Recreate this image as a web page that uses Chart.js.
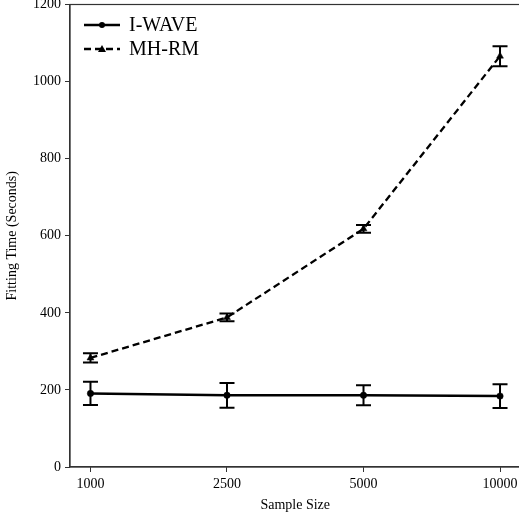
<!DOCTYPE html>
<html>
<head>
<meta charset="utf-8">
<script src="https://cdn.jsdelivr.net/npm/chart.js@4.4.1/dist/chart.umd.min.js"></script>
<style>
    html, body { margin: 0; padding: 0; background: #fff; overflow: hidden; }
    #wrap { position: relative; width: 525px; height: 514px; }
</style>
</head>
<body>
<div id="wrap"><canvas id="timeChart"></canvas></div>
<script>
// 데이터
const sampleSizes = ['1000', '2500', '5000', '10000'];
const iwaveTime = [191, 186, 186, 184];
const iwaveErr = [30, 32, 26, 31];
const mhrmTime = [283, 388, 618, 1066];
const mhrmErr = [12, 10, 10, 26];
const yTicks = [0, 200, 400, 600, 800, 1000, 1200];

const FONT = "'Liberation Serif', 'Times New Roman', serif";
const errorSets = [iwaveErr, mhrmErr];

// 에러바 그리기
const errorBarPlugin = {
    id: 'errorBars',
    afterDatasetsDraw(chart) {
        const ctx = chart.ctx;
        const xs = chart.scales.x, ys = chart.scales.y;
        ctx.save();
        ctx.strokeStyle = '#000';
        ctx.lineWidth = 2;
        chart.data.datasets.forEach((ds, i) => {
            const errs = errorSets[i];
            ds.data.forEach((p, j) => {
                const x = xs.getPixelForValue(p.x);
                const top = ys.getPixelForValue(p.y + errs[j]);
                const bot = ys.getPixelForValue(p.y - errs[j]);
                ctx.beginPath();
                ctx.moveTo(x, top); ctx.lineTo(x, bot);
                ctx.moveTo(x - 7.5, top); ctx.lineTo(x + 7.5, top);
                ctx.moveTo(x - 7.5, bot); ctx.lineTo(x + 7.5, bot);
                ctx.stroke();
            });
        });
        ctx.restore();
    }
};

// 테두리 + 범례
const framePlugin = {
    id: 'frame',
    afterDraw(chart) {
        const ctx = chart.ctx;
        const a = chart.chartArea;
        ctx.save();
        ctx.strokeStyle = '#333';
        ctx.lineWidth = 1.2;
        ctx.strokeRect(a.left, a.top, a.right - a.left, a.bottom - a.top);

        chart.data.datasets.forEach((ds, i) => {
            const y = 25 + i * 24;
            ctx.strokeStyle = '#000';
            ctx.fillStyle = '#000';
            ctx.lineWidth = 2.3;
            ctx.setLineDash(ds.borderDash || []);
            ctx.beginPath();
            ctx.moveTo(84, y); ctx.lineTo(120, y);
            ctx.stroke();
            ctx.setLineDash([]);
            ctx.beginPath();
            if (ds.pointStyle === 'triangle') {
                ctx.moveTo(102, y - 4); ctx.lineTo(106, y + 3); ctx.lineTo(98, y + 3);
            } else {
                ctx.arc(102, y, 3, 0, Math.PI * 2);
            }
            ctx.fill();
            ctx.font = '20px ' + FONT;
            ctx.textBaseline = 'middle';
            ctx.fillText(ds.label, 129, y + 1);
        });
        ctx.restore();
    }
};

function initChart() {
    const ctx = document.getElementById('timeChart').getContext('2d');
    new Chart(ctx, {
        type: 'line',
        data: {
            labels: sampleSizes,
            datasets: [{
                label: 'I-WAVE',
                data: iwaveTime.map((v, i) => ({ x: i, y: v })),
                borderColor: '#000',
                backgroundColor: '#000',
                borderWidth: 2.5,
                pointStyle: 'circle',
                pointRadius: 3.2,
                pointBorderWidth: 0.5,
                tension: 0
            }, {
                label: 'MH-RM',
                data: mhrmTime.map((v, i) => ({ x: i, y: v })),
                borderColor: '#000',
                backgroundColor: '#000',
                borderWidth: 2.3,
                borderDash: [7, 4],
                pointStyle: 'triangle',
                pointRadius: 4,
                pointBorderWidth: 0.5,
                tension: 0
            }]
        },
        options: {
            responsive: false,
            animation: false,
            layout: { padding: { top: 3, right: 4, left: 0, bottom: 0 } },
            plugins: {
                legend: { display: false },
                tooltip: { enabled: false }
            },
            scales: {
                x: {
                    type: 'linear',
                    min: -0.15,
                    max: 3.15,
                    afterBuildTicks: s => { s.ticks = sampleSizes.map((_, i) => ({ value: i })); },
                    afterFit: s => { s.height = 47; s.paddingLeft = 0; s.paddingRight = 0; },
                    grid: { drawOnChartArea: false, tickLength: 5, color: '#333', lineWidth: 1 },
                    border: { color: '#333', width: 1.2 },
                    ticks: {
                        color: '#000',
                        font: { family: FONT, size: 14 },
                        padding: 4,
                        maxRotation: 0,
                        callback: v => sampleSizes[v]
                    },
                    title: {
                        display: true,
                        text: 'Sample Size',
                        color: '#000',
                        font: { family: FONT, size: 14 },
                        padding: { top: 0, bottom: 0 }
                    }
                },
                y: {
                    min: 0,
                    max: 1200,
                    afterBuildTicks: s => { s.ticks = yTicks.map(v => ({ value: v })); },
                    afterFit: s => { s.width = 70; s.paddingTop = 0; s.paddingBottom = 0; },
                    grid: { drawOnChartArea: false, tickLength: 5, color: '#333', lineWidth: 1 },
                    border: { color: '#333', width: 1.2 },
                    ticks: {
                        color: '#000',
                        font: { family: FONT, size: 14 },
                        padding: 4,
                        callback: v => String(v)
                    },
                    title: {
                        display: true,
                        text: 'Fitting Time (Seconds)',
                        color: '#000',
                        font: { family: FONT, size: 14 },
                        padding: { top: 4, bottom: 6 }
                    }
                }
            }
        },
        plugins: [errorBarPlugin, framePlugin]
    });
}

document.addEventListener('DOMContentLoaded', function() {
    const c = document.getElementById('timeChart');
    c.width = 525;
    c.height = 514;
    initChart();
});
</script>
</body>
</html>
